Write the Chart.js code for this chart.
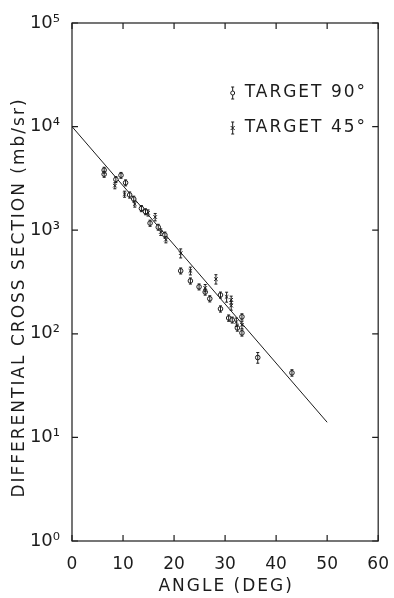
<!DOCTYPE html>
<html>
<head>
<meta charset="utf-8">
<script src="https://cdn.jsdelivr.net/npm/chart.js@4.4.1/dist/chart.umd.min.js"></script>
<style>
  html, body { margin: 0; padding: 0; background: #fff; }
  #wrap { width: 394px; height: 598px; }
</style>
</head>
<body>
<div id="wrap"><canvas id="c" width="394" height="598"></canvas></div>
<script>
// target at 90 deg (open circles)
const angle90 = [6.3, 6.3, 8.6, 9.6, 10.5, 11.3, 12.1, 13.6, 14.4, 15.3, 16.9, 18.2,
                 21.3, 23.2, 24.9, 26.1, 27.0, 29.1, 29.1, 30.7, 31.4, 33.3, 32.4, 33.3, 36.4, 43.1];
const sigma90 = [3800, 3470, 3090, 3390, 2870, 2190, 2000, 1620, 1510, 1170, 1070, 900,
                 405, 324, 284, 253, 218, 237, 174, 142, 136, 146, 114, 102, 59, 42];
const err90   = [250, 230, 200, 220, 190, 150, 130, 110, 100, 80, 70, 60,
                 27, 22, 19, 17, 15, 16, 12, 10, 9, 10, 8, 7, 7, 3];

// target at 45 deg (crosses)
const angle45 = [8.4, 10.3, 12.3, 14.9, 16.3, 17.4, 18.4, 21.3, 23.2, 26.1, 28.2, 30.3, 31.2, 31.2, 32.2, 33.3];
const sigma45 = [2690, 2230, 1790, 1470, 1340, 960, 810, 600, 405, 277, 337, 227, 213, 187, 130, 122];
const err45   = [180, 150, 120, 100, 110, 70, 55, 60, 35, 22, 35, 25, 18, 18, 12, 10];

// straight-line fit
const fitAngle = [0, 50];
const fitSigma = [10000, 14];

const xTicks = [0, 10, 20, 30, 40, 50, 60];
const yTicks = [1, 10, 100, 1000, 10000, 100000];
const legendLabels = ['TARGET 90°', 'TARGET 45°'];
const xTitle = 'ANGLE (DEG)';
const yTitle = 'DIFFERENTIAL CROSS SECTION (mb/sr)';

const FONT = '"DejaVu Sans", sans-serif';
const INK = '#1c1c1c';
const SUP = {'0':'⁰','1':'¹','2':'²','3':'³','4':'⁴','5':'⁵'};

function pts(xs, ys) {
    return xs.map((x, i) => ({ x: x, y: ys[i] }));
}

// vertical error bars with caps
const errorBars = {
    id: 'errorBars',
    afterDatasetsDraw(chart) {
        const { ctx, scales } = chart;
        ctx.save();
        ctx.strokeStyle = INK;
        ctx.lineWidth = 1;
        chart.data.datasets.forEach((ds) => {
            if (!ds.err) return;
            ds.data.forEach((p, i) => {
                const x = scales.x.getPixelForValue(p.x);
                const y1 = scales.y.getPixelForValue(p.y + ds.err[i]);
                const y2 = scales.y.getPixelForValue(p.y - ds.err[i]);
                ctx.beginPath();
                ctx.moveTo(x, y1); ctx.lineTo(x, y2);
                ctx.moveTo(x - 1.5, y1); ctx.lineTo(x + 1.5, y1);
                ctx.moveTo(x - 1.5, y2); ctx.lineTo(x + 1.5, y2);
                ctx.stroke();
            });
        });
        ctx.restore();
    }
};

// frame with inward ticks on all four sides
const frame = {
    id: 'frame',
    afterDraw(chart) {
        const { ctx, chartArea: a, scales } = chart;
        ctx.save();
        ctx.strokeStyle = INK;
        ctx.lineWidth = 1.2;
        ctx.strokeRect(a.left, a.top, a.right - a.left, a.bottom - a.top);
        ctx.beginPath();
        xTicks.forEach(v => {
            const x = scales.x.getPixelForValue(v);
            ctx.moveTo(x, a.bottom); ctx.lineTo(x, a.bottom - 6);
            ctx.moveTo(x, a.top); ctx.lineTo(x, a.top + 6);
        });
        yTicks.forEach(v => {
            const y = scales.y.getPixelForValue(v);
            ctx.moveTo(a.left, y); ctx.lineTo(a.left + 6, y);
            ctx.moveTo(a.right, y); ctx.lineTo(a.right - 6, y);
        });
        ctx.stroke();
        ctx.restore();
    }
};

// axis titles, letter-spaced like the original lettering
const axisTitles = {
    id: 'axisTitles',
    afterDraw(chart) {
        const { ctx, chartArea: a } = chart;
        ctx.save();
        ctx.fillStyle = INK;
        ctx.textAlign = 'center';
        ctx.textBaseline = 'middle';
        ctx.font = '17px ' + FONT;
        ctx.letterSpacing = '2px';
        ctx.fillText(xTitle, (a.left + a.right) / 2 + 1, 587);
        ctx.font = '17px ' + FONT;
        ctx.letterSpacing = '2px';
        ctx.translate(20, a.top + (a.bottom - a.top) * 0.53);
        ctx.rotate(-Math.PI / 2);
        ctx.fillText(yTitle, 0, 0);
        ctx.restore();
    }
};

// legend inside the plot, upper right
const insideLegend = {
    id: 'insideLegend',
    afterDraw(chart) {
        const { ctx, chartArea: a } = chart;
        const w = a.right - a.left;
        const sx = a.left + w * 0.515 + 3;
        const rows = [a.top + 70, a.top + 105];
        ctx.save();
        ctx.strokeStyle = INK;
        ctx.fillStyle = INK;
        ctx.lineWidth = 1;
        rows.forEach((y, i) => {
            ctx.beginPath();
            ctx.moveTo(sx, y - 6); ctx.lineTo(sx, y + 6);
            ctx.moveTo(sx - 1.5, y - 6); ctx.lineTo(sx + 1.5, y - 6);
            ctx.moveTo(sx - 1.5, y + 6); ctx.lineTo(sx + 1.5, y + 6);
            ctx.stroke();
            ctx.beginPath();
            if (i === 0) {
                ctx.fillStyle = '#fff';
                ctx.arc(sx, y, 2, 0, Math.PI * 2);
                ctx.fill();
                ctx.stroke();
            } else {
                ctx.moveTo(sx - 2, y - 2); ctx.lineTo(sx + 2, y + 2);
                ctx.moveTo(sx + 2, y - 2); ctx.lineTo(sx - 2, y + 2);
                ctx.stroke();
            }
            ctx.fillStyle = INK;
            ctx.font = '17px ' + FONT;
            ctx.letterSpacing = '2px';
            ctx.textBaseline = 'middle';
            ctx.textAlign = 'left';
            ctx.fillText(legendLabels[i], sx + 12, y);
        });
        ctx.restore();
    }
};

new Chart(document.getElementById('c'), {
    type: 'scatter',
    data: {
        datasets: [
            {
                label: legendLabels[0],
                data: pts(angle90, sigma90),
                err: err90,
                pointStyle: 'circle',
                pointRadius: 2.3,
                borderColor: INK,
                backgroundColor: '#fff',
                borderWidth: 1
            },
            {
                label: legendLabels[1],
                data: pts(angle45, sigma45),
                err: err45,
                pointStyle: 'crossRot',
                pointRadius: 2.5,
                borderColor: INK,
                borderWidth: 1
            },
            {
                label: 'fit',
                data: pts(fitAngle, fitSigma),
                showLine: true,
                pointRadius: 0,
                borderColor: INK,
                borderWidth: 1
            }
        ]
    },
    options: {
        responsive: false,
        animation: false,
        layout: { padding: { top: 23, right: 9, left: 0, bottom: 0 } },
        plugins: {
            legend: { display: false },
            tooltip: { enabled: false }
        },
        scales: {
            x: {
                type: 'linear',
                min: 0,
                max: 60,
                afterBuildTicks: (s) => { s.ticks = xTicks.map(v => ({ value: v })); },
                afterFit: (s) => { s.height = 57; },
                grid: { display: false },
                border: { display: false },
                ticks: {
                    padding: 5,
                    color: INK,
                    font: { family: FONT, size: 17 }
                }
            },
            y: {
                type: 'logarithmic',
                min: 1,
                max: 100000,
                afterBuildTicks: (s) => { s.ticks = yTicks.map(v => ({ value: v })); },
                afterFit: (s) => { s.width = 72; },
                grid: { display: false },
                border: { display: false },
                ticks: {
                    padding: 4,
                    color: INK,
                    font: { family: FONT, size: 18 },
                    callback: (v) => '10' + String(Math.round(Math.log10(v))).split('').map(c => SUP[c]).join('')
                }
            }
        }
    },
    plugins: [errorBars, frame, axisTitles, insideLegend]
});
</script>
</body>
</html>
